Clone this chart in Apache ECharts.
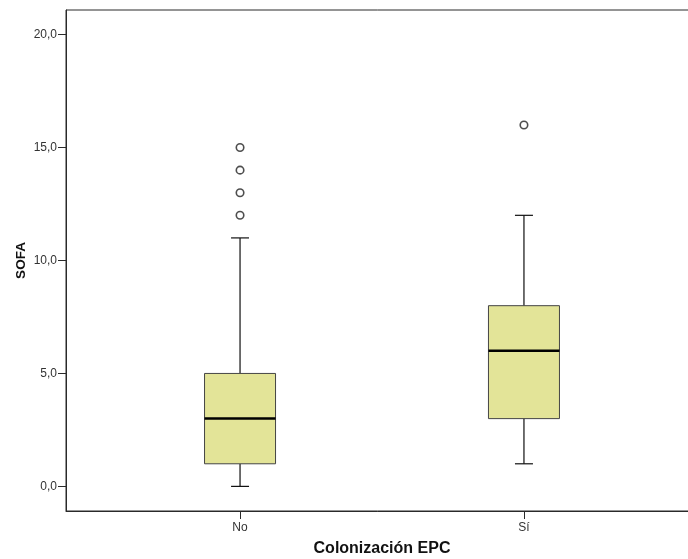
<!DOCTYPE html>
<html>
<head>
<meta charset="utf-8">
<script src="https://cdn.jsdelivr.net/npm/echarts@6/dist/echarts.min.js"></script>
<style>html,body{margin:0;padding:0;background:#fff;}#c{width:688px;height:559px;}</style>
</head>
<body>
<div id="c"></div>
<script>
const categories = ['No', 'Sí'];
const whiskerLow = [0, 1];
const q1 = [1, 3];
const medians = [3, 6];
const q3 = [5, 8];
const whiskerHigh = [11, 12];
const outliersNo = [12, 13, 14, 15];
const outliersSi = [16];
const yTicks = [0, 5, 10, 15, 20];

const boxData = categories.map((c, i) => [i, whiskerLow[i], q1[i], medians[i], q3[i], whiskerHigh[i]]);
const outlierData = [
  ...outliersNo.map(v => [0, v]),
  ...outliersSi.map(v => [1, v])
];

const FONT = '"Liberation Sans", Arial, sans-serif';
const chart = echarts.init(document.getElementById('c'));
chart.setOption({
  animation: false,
  backgroundColor: '#fff',
  grid: {
    left: 66, right: -10, top: 10, bottom: 48,
    outerBoundsMode: 'none',
    containLabel: false,
    show: true, borderColor: '#2a2a2a', borderWidth: 1, backgroundColor: 'transparent'
  },
  xAxis: {
    type: 'value',
    min: -0.613, max: 1.613,
    splitLine: { show: false },
    axisLine: { show: true, onZero: false, lineStyle: { color: '#2a2a2a', width: 1 } },
    axisTick: { show: true, length: 8, lineStyle: { color: '#2a2a2a' }, customValues: [0, 1] },
    axisLabel: {
      customValues: [0, 1],
      formatter: v => categories[Math.round(v)],
      color: '#333', fontSize: 12, fontFamily: FONT, margin: 11
    },
    name: 'Colonización EPC',
    nameLocation: 'middle',
    nameGap: 30,
    nameMoveOverlap: false,
    nameTextStyle: { fontSize: 16, fontWeight: 'bold', color: '#111', fontFamily: FONT }
  },
  yAxis: {
    type: 'value',
    min: -1.09, max: 21.09,
    splitLine: { show: false },
    axisLine: { show: true, onZero: false, lineStyle: { color: '#2a2a2a', width: 1 } },
    axisTick: { show: true, length: 8, lineStyle: { color: '#2a2a2a' }, customValues: yTicks },
    axisLabel: {
      customValues: yTicks,
      formatter: v => v.toFixed(1).replace('.', ','),
      color: '#333', fontSize: 12, fontFamily: FONT, margin: 9
    },
    name: 'SOFA',
    nameLocation: 'middle',
    nameRotate: 90,
    nameGap: 38,
    nameMoveOverlap: false,
    nameTextStyle: { fontSize: 13.5, fontWeight: 'bold', color: '#111', fontFamily: FONT }
  },
  series: [
    {
      type: 'custom',
      data: boxData,
      encode: { x: 0, y: [1, 2, 3, 4, 5] },
      renderItem: function (params, api) {
        const i = api.value(0);
        const x = api.coord([i, 0])[0];
        const yLo = api.coord([i, api.value(1)])[1];
        const yQ1 = api.coord([i, api.value(2)])[1];
        const yMed = api.coord([i, api.value(3)])[1];
        const yQ3 = api.coord([i, api.value(4)])[1];
        const yHi = api.coord([i, api.value(5)])[1];
        const hw = 35.5, cap = 9;
        const ls = { stroke: '#111', lineWidth: 1.2 };
        return {
          type: 'group',
          children: [
            { type: 'line', shape: { x1: x, y1: yHi, x2: x, y2: yQ3 }, style: ls },
            { type: 'line', shape: { x1: x, y1: yQ1, x2: x, y2: yLo }, style: ls },
            { type: 'line', shape: { x1: x - cap, y1: yHi, x2: x + cap, y2: yHi }, style: ls },
            { type: 'line', shape: { x1: x - cap, y1: yLo, x2: x + cap, y2: yLo }, style: ls },
            { type: 'rect', shape: { x: x - hw, y: yQ3, width: 2 * hw, height: yQ1 - yQ3 },
              style: { fill: '#e3e498', stroke: '#444', lineWidth: 1 } },
            { type: 'line', shape: { x1: x - hw, y1: yMed, x2: x + hw, y2: yMed },
              style: { stroke: '#000', lineWidth: 2.5 } }
          ]
        };
      }
    },
    {
      type: 'scatter',
      data: outlierData,
      symbol: 'circle',
      symbolSize: 7.5,
      itemStyle: { color: '#fff', borderColor: '#222', borderWidth: 1.6 },
      z: 5
    }
  ]
});
</script>
</body>
</html>
